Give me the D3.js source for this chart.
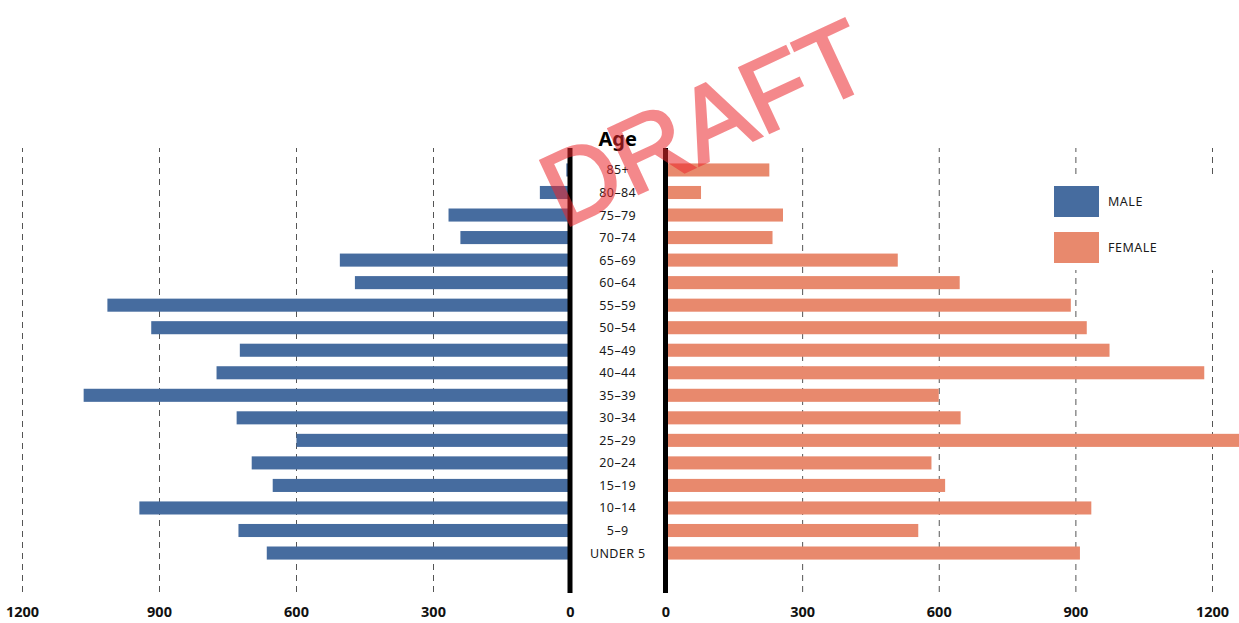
<!DOCTYPE html>
<html>
<head>
<meta charset="utf-8">
<script src="https://cdn.jsdelivr.net/npm/d3@7"></script>
<style>
  html, body { margin: 0; padding: 0; background: #fff; }
  svg { display: block; }
  text { font-family: "Noto Sans", "DejaVu Sans", sans-serif; }
</style>
</head>
<body>
<svg id="chart" width="1239" height="623"></svg>
<script>
// Age groups, oldest at the top
const ageGroups = ["85+", "80–84", "75–79", "70–74", "65–69", "60–64", "55–59", "50–54",
  "45–49", "40–44", "35–39", "30–34", "25–29", "20–24", "15–19", "10–14", "5–9", "UNDER 5"];

// Population counts per age group
const maleValues = [8, 66, 266, 240, 504, 471, 1013, 917, 723, 774, 1065, 730, 599, 697, 651, 943, 726, 664];
const femaleValues = [228, 78, 258, 235, 510, 646, 890, 925, 975, 1183, 600, 648, 1290, 584, 614, 935, 555, 910];

// Axis ticks on each half
const tickValues = [0, 300, 600, 900, 1200];

const seriesNames = ["MALE", "FEMALE"];
const seriesColors = ["#466c9f", "#e8896d"];

const svg = d3.select("#chart");

const leftZero = 570, rightZero = 665.5;
const gridTop = 148, gridBottom = 592;

const xLeft = d3.scaleLinear().domain([0, 1200]).range([leftZero, 22]);
const xRight = d3.scaleLinear().domain([0, 1200]).range([rightZero, 1212]);

const y = d3.scaleBand()
  .domain(ageGroups)
  .range([158.7, 564.3])
  .paddingInner(0.42)
  .paddingOuter(0.21);

// Dashed gridlines and tick labels via the axis generator
function drawAxis(scale) {
  const g = svg.append("g")
    .attr("transform", `translate(0,${gridBottom})`)
    .call(d3.axisBottom(scale)
      .tickValues(tickValues)
      .tickFormat(d3.format("d"))
      .tickSizeInner(-(gridBottom - gridTop))
      .tickSizeOuter(0)
      .tickPadding(15));
  g.select(".domain").remove();
  g.selectAll(".tick line")
    .attr("stroke", "#555")
    .attr("stroke-width", 1)
    .attr("stroke-dasharray", "6,5")
    .attr("opacity", d => d === 0 ? 0 : 1);
  g.selectAll(".tick text")
    .attr("font-size", 14.5)
    .attr("font-weight", 700)
    .attr("fill", "#111")
    .style("font-family", "'Noto Sans', sans-serif");
  return g;
}
drawAxis(xLeft);
drawAxis(xRight);

// Male bars grow leftwards from the left spine
svg.append("g").selectAll("rect")
  .data(ageGroups.map((a, i) => ({ age: a, v: maleValues[i] })))
  .join("rect")
  .attr("x", d => xLeft(d.v))
  .attr("width", d => xLeft(0) - xLeft(d.v))
  .attr("y", d => y(d.age))
  .attr("height", y.bandwidth())
  .attr("fill", seriesColors[0]);

// Female bars grow rightwards from the right spine
svg.append("g").selectAll("rect")
  .data(ageGroups.map((a, i) => ({ age: a, v: femaleValues[i] })))
  .join("rect")
  .attr("x", xRight(0))
  .attr("width", d => xRight(d.v) - xRight(0))
  .attr("y", d => y(d.age))
  .attr("height", y.bandwidth())
  .attr("fill", seriesColors[1]);

// Heavy spines on both zero lines
[leftZero, rightZero].forEach(x => {
  svg.append("line")
    .attr("x1", x).attr("x2", x)
    .attr("y1", gridTop).attr("y2", gridBottom + 1)
    .attr("stroke", "#000")
    .attr("stroke-width", 5);
});

// Age group labels between the spines
const midX = (leftZero + rightZero) / 2;
svg.append("g").selectAll("text")
  .data(ageGroups)
  .join("text")
  .attr("x", midX)
  .attr("y", d => y(d) + y.bandwidth() / 2)
  .attr("dy", "0.36em")
  .attr("text-anchor", "middle")
  .attr("font-size", 12.5)
  .attr("letter-spacing", 0.4)
  .attr("fill", "#1a1a1a")
  .text(d => d);

svg.append("text")
  .attr("x", midX)
  .attr("y", 146)
  .attr("text-anchor", "middle")
  .attr("font-size", 20)
  .attr("font-weight", 700)
  .attr("fill", "#000")
  .text("Age");

// Legend on a white panel
const legend = svg.append("g");
legend.append("rect")
  .attr("x", 1040).attr("y", 175)
  .attr("width", 199).attr("height", 95)
  .attr("fill", "#fff");
seriesNames.forEach((name, i) => {
  legend.append("rect")
    .attr("x", 1054).attr("y", 186 + i * 46)
    .attr("width", 45).attr("height", 31)
    .attr("fill", seriesColors[i]);
  legend.append("text")
    .attr("x", 1108).attr("y", 186 + i * 46 + 15.5)
    .attr("dy", "0.36em")
    .attr("font-size", 12.5)
    .attr("letter-spacing", 0.5)
    .attr("fill", "#1a1a1a")
    .text(name);
});

// Watermark, drawn in a translucent group so fill and outline blend once
svg.append("g")
  .attr("opacity", 0.55)
  .append("text")
  .attr("transform", "translate(563,229) rotate(-25)")
  .attr("text-anchor", "start")
  .attr("font-size", 104)
  .style("font-family", "'Liberation Sans', Arial, sans-serif")
  .attr("fill", "rgb(236,40,46)")
  .attr("stroke", "rgb(236,40,46)")
  .attr("stroke-width", 2.5)
  .attr("stroke-linejoin", "miter")
  .text("DRAFT");
</script>
</body>
</html>
